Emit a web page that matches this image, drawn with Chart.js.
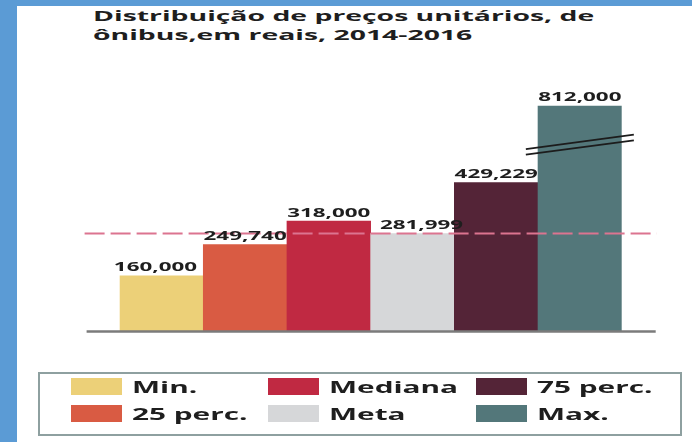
<!DOCTYPE html>
<html lang="pt">
<head>
<meta charset="UTF-8">
<title>Distribuição de preços unitários de ônibus</title>
<script src="https://cdn.jsdelivr.net/npm/chart.js@4.4.0/dist/chart.umd.min.js"></script>
<style>
    html, body { margin: 0; padding: 0; }
    body {
        width: 692px; height: 442px; position: relative; overflow: hidden;
        background: #5b9bd5; font-family: 'Open Sans', sans-serif; color: #1e1e1e;
    }
    #panel { position: absolute; left: 17px; top: 6px; right: 0; bottom: 0; background: #fff; }
    #title {
        position: absolute; left: 93px; top: 6px; white-space: nowrap;
        font-weight: 700; font-size: 15px; line-height: 19px;
        transform: scaleX(1.89); transform-origin: 0 0;
    }
    #chart { position: absolute; left: 0; top: 0; }
    #legend {
        position: absolute; left: 38px; top: 372px; width: 640px; height: 60px;
        border: 2px solid #8ea0a0;
    }
    .swatch { position: absolute; width: 51px; height: 17px; }
    .lbl {
        position: absolute; white-space: nowrap; font-weight: 700; font-size: 16px; line-height: 18px;
        transform: scaleX(1.86); transform-origin: 0 0;
    }
</style>
</head>
<body>
    <div id="panel"></div>
    <div id="title">Distribuição de preços unitários, de<br>ônibus,em reais, 2014-2016</div>
    <canvas id="chart" width="692" height="442"></canvas>
    <div id="legend"></div>

<script>
    // Data
    const categories = ['Min.', '25 perc.', 'Mediana', 'Meta', '75 perc.', 'Max.'];
    const prices = [160000, 249740, 318000, 281999, 429229, 812000];
    const barColors = ['#ecd078', '#d95b43', '#c02942', '#d6d7d9', '#542437', '#53777a'];
    const targetValue = 281999;   // dashed "Meta" line
    const axisTop = 652000;       // the Max bar is cut (broken bar) above this

    // Legend: two rows, three columns, filled column by column
    const legend = document.getElementById('legend');
    const colX = [31, 228, 436];
    const rowY = [4, 31];
    categories.forEach((name, i) => {
        const col = Math.floor(i / 2), row = i % 2;
        const sw = document.createElement('div');
        sw.className = 'swatch';
        sw.style.left = colX[col] + 'px';
        sw.style.top = rowY[row] + 'px';
        sw.style.background = barColors[i];
        legend.appendChild(sw);
        const lbl = document.createElement('div');
        lbl.className = 'lbl';
        lbl.style.left = (colX[col] + 61) + 'px';
        lbl.style.top = rowY[row] + 'px';
        lbl.textContent = name;
        legend.appendChild(lbl);
    });

    // Base line, target line, break marks and value labels
    const decorations = {
        id: 'decorations',
        afterDatasetsDraw(chart) {
            const ctx = chart.ctx;
            const area = chart.chartArea;
            const y = chart.scales.y;
            const bars = chart.getDatasetMeta(0).data;
            ctx.save();

            const y0 = y.getPixelForValue(0);
            ctx.strokeStyle = '#7b7b7b';
            ctx.lineWidth = 2.5;
            ctx.beginPath();
            ctx.moveTo(area.left - 33, y0 + 0.5);
            ctx.lineTo(area.right + 34, y0 + 0.5);
            ctx.stroke();

            const ym = y.getPixelForValue(targetValue);
            ctx.strokeStyle = '#dc7490';
            ctx.lineWidth = 2;
            ctx.setLineDash([20, 6]);
            ctx.beginPath();
            ctx.moveTo(area.left - 35, ym);
            ctx.lineTo(area.right + 35, ym);
            ctx.stroke();
            ctx.setLineDash([]);

            // break marks on the last bar
            const last = bars[bars.length - 1];
            const cy = area.top + 39;
            ctx.strokeStyle = '#1c1c1c';
            ctx.lineWidth = 1.8;
            [-2.8, 2.8].forEach(off => {
                ctx.beginPath();
                ctx.moveTo(last.x - 54, cy + 7.2 + off);
                ctx.lineTo(last.x + 54, cy - 7.2 + off);
                ctx.stroke();
            });

            ctx.fillStyle = '#1e1e1e';
            ctx.font = 'bold 12.5px "Open Sans"';
            ctx.textAlign = 'center';
            ctx.textBaseline = 'alphabetic';
            const shift = [-6, 0, 0, 9, 0, 0];
            bars.forEach((bar, i) => {
                const top = Math.max(bar.y, area.top);
                ctx.save();
                ctx.translate(bar.x + shift[i], top - 4.5);
                ctx.scale(1.79, 1);
                ctx.fillText(prices[i].toLocaleString('en-US'), 0, 0);
                ctx.restore();
            });
            ctx.restore();
        }
    };

    Chart.defaults.font.family = "'Open Sans', sans-serif";

    new Chart(document.getElementById('chart'), {
        type: 'bar',
        data: {
            labels: categories,
            datasets: [{
                data: prices,
                backgroundColor: barColors,
                borderWidth: 0,
                barPercentage: 1,
                categoryPercentage: 1,
                clip: 0
            }]
        },
        options: {
            responsive: false,
            animation: false,
            events: [],
            layout: { padding: { left: 119.6, right: 70.3, top: 105.7, bottom: 111 } },
            plugins: { legend: { display: false }, tooltip: { enabled: false }, title: { display: false } },
            scales: {
                x: { display: false },
                y: { display: false, min: 0, max: axisTop }
            }
        },
        plugins: [decorations]
    });
</script>
</body>
</html>
